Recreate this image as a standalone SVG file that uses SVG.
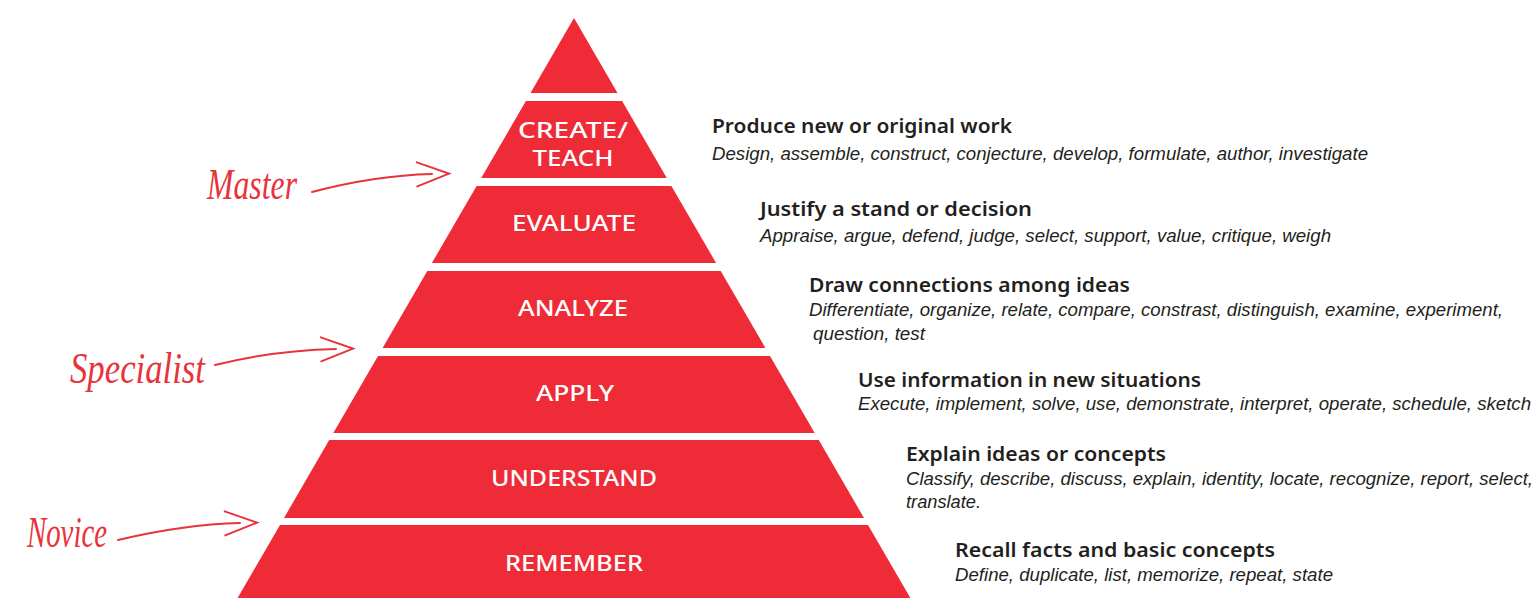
<svg xmlns="http://www.w3.org/2000/svg" width="1536" height="599" viewBox="0 0 1536 599">
<style>
.band{fill:#EE2B36;}
.lbl{fill:#ffffff;font-family:"Noto Sans","Open Sans",sans-serif;font-weight:500;font-size:22px;text-anchor:middle;}
.hd{fill:#231F20;font-family:"Noto Sans","Open Sans",sans-serif;font-weight:600;font-size:19px;}
.it{fill:#231F20;font-family:"Liberation Sans",Arial,sans-serif;font-style:italic;font-size:18px;}
.scr{fill:#E8333B;font-family:"Liberation Serif","DejaVu Serif",serif;font-style:italic;font-size:44px;}
.arr{fill:none;stroke:#E8333B;stroke-width:2;stroke-linecap:round;}
</style>
<defs>
<marker id="chev" markerUnits="userSpaceOnUse" markerWidth="40" markerHeight="30" refX="15" refY="12" orient="auto" overflow="visible">
<path d="M0,0 L32,12 L0,24" fill="none" stroke="#E8333B" stroke-width="2" stroke-linecap="round" stroke-linejoin="miter"/>
</marker>
</defs>
<rect width="1536" height="599" fill="#ffffff"/>

<g id="level-top">
<polygon class="band" points="574,18 617.5,93 530.5,93"/>
</g>
<g id="level-create">
<polygon class="band" points="525.9,101 622.1,101 666.8,178 481.2,178"/>
<text class="lbl" x="573" y="138" textLength="110" lengthAdjust="spacingAndGlyphs">CREATE/</text>
<text class="lbl" x="573" y="166" textLength="81" lengthAdjust="spacingAndGlyphs">TEACH</text>
</g>
<g id="level-evaluate">
<polygon class="band" points="476.6,186 671.4,186 716.1,263 431.9,263"/>
<text class="lbl" x="574" y="231" textLength="124" lengthAdjust="spacingAndGlyphs">EVALUATE</text>
</g>
<g id="level-analyze">
<polygon class="band" points="427.3,271 720.7,271 765.4,348 382.6,348"/>
<text class="lbl" x="573" y="316" textLength="110" lengthAdjust="spacingAndGlyphs">ANALYZE</text>
</g>
<g id="level-apply">
<polygon class="band" points="378,356 770,356 814.7,433 333.3,433"/>
<text class="lbl" x="575" y="401" textLength="78" lengthAdjust="spacingAndGlyphs">APPLY</text>
</g>
<g id="level-understand">
<polygon class="band" points="329.2,440 818.8,440 864,518 284,518"/>
<text class="lbl" x="574" y="486" textLength="166" lengthAdjust="spacingAndGlyphs">UNDERSTAND</text>
</g>
<g id="level-remember">
<polygon class="band" points="280,525 868,525 910.4,598 237.6,598"/>
<text class="lbl" x="574" y="571" textLength="138" lengthAdjust="spacingAndGlyphs">REMEMBER</text>
</g>

<g id="desc-create">
<text class="hd" x="712" y="133" textLength="300" lengthAdjust="spacingAndGlyphs">Produce new or original work</text>
<text class="it" x="712" y="160" textLength="656" lengthAdjust="spacingAndGlyphs">Design, assemble, construct, conjecture, develop, formulate, author, investigate</text>
</g>
<g id="desc-evaluate">
<text class="hd" x="760" y="216" textLength="272" lengthAdjust="spacingAndGlyphs">Justify a stand or decision</text>
<text class="it" x="760" y="242" textLength="571" lengthAdjust="spacingAndGlyphs">Appraise, argue, defend, judge, select, support, value, critique, weigh</text>
</g>
<g id="desc-analyze">
<text class="hd" x="809" y="292" textLength="321" lengthAdjust="spacingAndGlyphs">Draw connections among ideas</text>
<text class="it" x="809" y="316" textLength="694" lengthAdjust="spacingAndGlyphs">Differentiate, organize, relate, compare, constrast, distinguish, examine, experiment,</text>
<text class="it" x="813" y="340" textLength="112" lengthAdjust="spacingAndGlyphs">question, test</text>
</g>
<g id="desc-apply">
<text class="hd" x="858" y="387" textLength="343" lengthAdjust="spacingAndGlyphs">Use information in new situations</text>
<text class="it" x="858" y="410" textLength="673" lengthAdjust="spacingAndGlyphs">Execute, implement, solve, use, demonstrate, interpret, operate, schedule, sketch</text>
</g>
<g id="desc-understand">
<text class="hd" x="906" y="461" textLength="260" lengthAdjust="spacingAndGlyphs">Explain ideas or concepts</text>
<text class="it" x="906" y="485" textLength="627" lengthAdjust="spacingAndGlyphs">Classify, describe, discuss, explain, identity, locate, recognize, report, select,</text>
<text class="it" x="906" y="508" textLength="75" lengthAdjust="spacingAndGlyphs">translate.</text>
</g>
<g id="desc-remember">
<text class="hd" x="955" y="557" textLength="320" lengthAdjust="spacingAndGlyphs">Recall facts and basic concepts</text>
<text class="it" x="955" y="581" textLength="378" lengthAdjust="spacingAndGlyphs">Define, duplicate, list, memorize, repeat, state</text>
</g>

<g id="tag-master">
<text class="scr" x="207" y="199" textLength="90" lengthAdjust="spacingAndGlyphs">Master</text>
</g>
<g id="tag-specialist">
<text class="scr" x="70" y="383" textLength="135" lengthAdjust="spacingAndGlyphs">Specialist</text>
</g>
<g id="tag-novice">
<text class="scr" x="27" y="547" font-size="40" textLength="80" lengthAdjust="spacingAndGlyphs">Novice</text>
</g>

<g id="connectors">
<path class="arr" d="M312,192 C350,182 390,175 432,174" marker-end="url(#chev)"/>
<path class="arr" d="M215,365 C255,355 292,350 336,349" marker-end="url(#chev)"/>
<path class="arr" d="M118,540 C160,530 197,524 240,523" marker-end="url(#chev)"/>
</g>
</svg>
